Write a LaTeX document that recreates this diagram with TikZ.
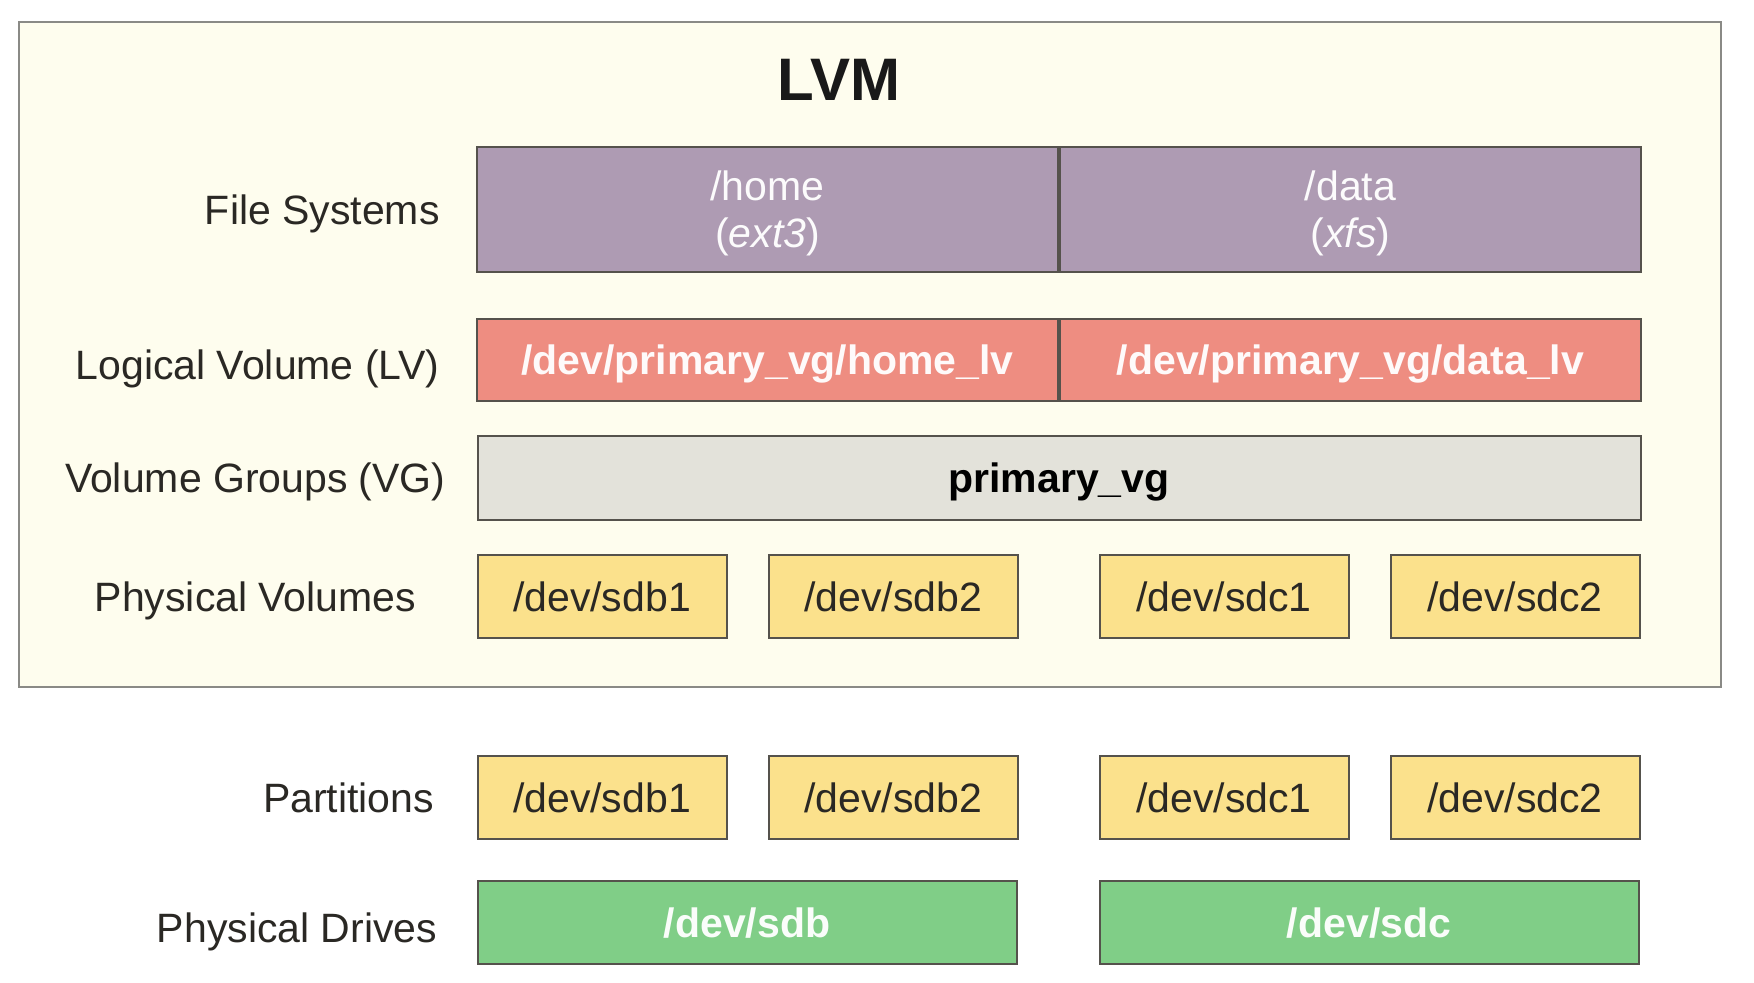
\documentclass[tikz,border=0pt]{standalone}
\usepackage{fontspec}
\setmainfont{Liberation Sans}
\usepackage{tikz}
\usetikzlibrary{positioning}

\definecolor{lvmbg}{HTML}{FEFDEE}
\definecolor{framegray}{HTML}{8A8A86}
\definecolor{edgegray}{HTML}{55524C}
\definecolor{fsfill}{HTML}{AE9BB3}
\definecolor{lvfill}{HTML}{EE8D81}
\definecolor{vgfill}{HTML}{E3E2DA}
\definecolor{pvfill}{HTML}{FBE18C}
\definecolor{pdfill}{HTML}{80CE87}
\definecolor{inktext}{HTML}{2A2824}

\begin{document}
\begin{tikzpicture}[x=0.5pt, y=-0.5pt, every node/.style={font=\fontsize{20.5}{23.5}\selectfont, text=inktext}, frame/.style={draw=framegray, line width=1pt, fill=lvmbg, minimum width=851pt, minimum height=332.5pt}, title/.style={font=\fontsize{30}{34}\selectfont\bfseries, text=black!90}, lbl/.style={inner sep=0pt, text depth=0pt}, layer/.style={draw=edgegray, line width=1pt, align=center, inner sep=0pt, text depth=0pt}, fsbox/.style={layer, fill=fsfill, text=white!96!fsfill, minimum width=290.5pt, minimum height=62.5pt}, lvbox/.style={layer, fill=lvfill, text=white!96!lvfill, font=\fontsize{20.5}{23.5}\selectfont\bfseries, minimum width=290.5pt, minimum height=41pt}, vgbox/.style={layer, fill=vgfill, text=black, font=\fontsize{20.5}{23.5}\selectfont\bfseries, minimum width=581.5pt, minimum height=42pt}, pvbox/.style={layer, fill=pvfill, minimum width=124.5pt, minimum height=41.5pt}, drivebox/.style={layer, fill=pdfill, text=white!96!pdfill, font=\fontsize{20.5}{23.5}\selectfont\bfseries, minimum width=269.5pt, minimum height=41.5pt}]
\fill[white] (0,0) rectangle (1754,982);
\useasboundingbox (0,0) rectangle (1754,982);
% LVM frame
\node[frame, anchor=north west] (lvmbox) at (18,21) {};
\node[title] (lvm) at (839,80) {LVM};
\node[fsbox, anchor=north west] (home) at (476,146) {/home\\(\textit{ext3})};
\node[fsbox, right=0pt of home] (data) {/data\\(\textit{xfs})};
\node[lvbox, below=22.5pt of home] (homelv) {/dev/primary\_vg/home\_lv};
\node[lvbox, right=0pt of homelv] (datalv) {/dev/primary\_vg/data\_lv};
\node[vgbox, below=16.5pt of homelv.south east] (vg) {primary\_vg};
\node[pvbox, below=16.5pt of vg.south west, anchor=north west] (pvsdbone) {/dev/sdb1};
\node[pvbox, right=20pt of pvsdbone] (pvsdbtwo) {/dev/sdb2};
\node[pvbox, right=40pt of pvsdbtwo] (pvsdcone) {/dev/sdc1};
\node[pvbox, right=20pt of pvsdcone] (pvsdctwo) {/dev/sdc2};
% below the frame
\node[pvbox, below=58pt of pvsdbone] (ptsdbone) {/dev/sdb1};
\node[pvbox, right=20pt of ptsdbone] (ptsdbtwo) {/dev/sdb2};
\node[pvbox, right=40pt of ptsdbtwo] (ptsdcone) {/dev/sdc1};
\node[pvbox, right=20pt of ptsdcone] (ptsdctwo) {/dev/sdc2};
\node[drivebox, below=20pt of ptsdbone.south west, anchor=north west] (sdb) {/dev/sdb};
\node[drivebox, below=20pt of ptsdcone.south west, anchor=north west] (sdc) {/dev/sdc};
% row labels
\node[lbl, left=18pt of home] (fslbl) {File Systems};
\node[lbl, left=18pt of homelv, yshift=-2.5pt] (lvlbl) {Logical Volume (LV)};
\node[lbl, left=15pt of vg.west -| home.west] (vglbl) {Volume Groups (VG)};
\node[lbl, left=30pt of pvsdbone] (pvlbl) {Physical Volumes};
\node[lbl, left=21pt of ptsdbone] (ptlbl) {Partitions};
\node[lbl, left=19.5pt of sdb, yshift=-2.5pt] (pdlbl) {Physical Drives};
\end{tikzpicture}
\end{document}
